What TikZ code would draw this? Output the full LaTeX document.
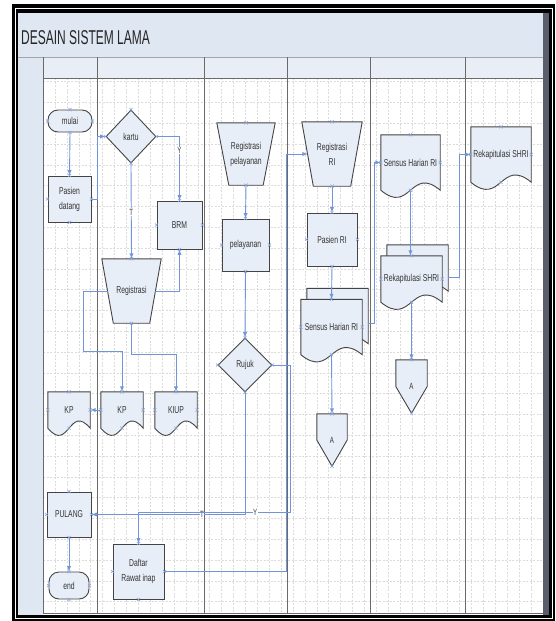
\documentclass[tikz,border=0pt]{standalone}
\usepackage{fontspec}
\setmainfont{Liberation Sans}[FakeStretch=0.68]
\newfontfamily\titlefont{Liberation Sans}[FakeStretch=0.6]
\usetikzlibrary{shapes.geometric,calc}

\definecolor{shapefill}{HTML}{E8EEF7}
\definecolor{shapeline}{HTML}{444444}
\definecolor{flowblue}{HTML}{7195D8}
\definecolor{barblue}{HTML}{DFE7F2}
\definecolor{laneline}{HTML}{6A6A6A}
\definecolor{slate}{HTML}{5A5E6C}

\pgfdeclarelayer{grid}
\pgfdeclarelayer{outline}
\pgfsetlayers{grid,outline,main}

\tikzset{
  base/.style={font=\fontsize{10}{15}\selectfont, text=black!80, align=center, inner sep=1pt},
  process/.style={base, shape=rectangle, draw=shapeline, fill=shapefill, line width=0.9pt},
  terminal/.style={process, rounded corners=10pt},
  decision/.style={base, shape=diamond, draw=shapeline, fill=shapefill, line width=0.9pt, inner sep=0pt},
  bare/.style={base, shape=rectangle, inner sep=0pt},
  docline/.style={draw=shapeline, fill=shapefill, line width=0.9pt},
  flow/.style={draw=flowblue, line width=0.9pt, ->},
  lbl/.style={font=\fontsize{9}{9}\selectfont, inner sep=0.5pt, text=black!75, fill=white},
  xm/.style={draw=flowblue!85, line width=0.5pt},
  gridline/.style={draw=gray!28, line width=0.4pt, dash pattern=on 2pt off 1.5pt},
}

% document outline with wavy bottom, shifted by (#2,#3)
\newcommand{\docpath}[3]{%
  \filldraw[docline] ($(#1.north west)+(#2,#3)$) -- ($(#1.north east)+(#2,#3)$)
    -- ($(#1.south east)+(#2,#3)$)
    .. controls ($(#1.south)+({#2},{#3-25})$) and ($(#1.south)+({#2},{#3+25})$)
    .. ($(#1.south west)+(#2,#3)$) -- cycle;}
% manual operation: wide top, narrow bottom
\newcommand{\manualpath}[2]{%
  \filldraw[docline] (#1.north west) -- (#1.north east)
    -- ($(#1.south east)+(-#2,0)$) -- ($(#1.south west)+(#2,0)$) -- cycle;}
% off-page connector pointing down
\newcommand{\offpagepath}[1]{%
  \filldraw[docline] (#1.north west) -- (#1.north east) -- ($(#1.north east)!0.5!(#1.south east)$)
    -- (#1.south) -- ($(#1.north west)!0.5!(#1.south west)$) -- cycle;}

\begin{document}
\begin{tikzpicture}[x=1pt,y=-1pt,>=latex]
  \useasboundingbox (0,0) rectangle (555,621);

  % frame, title bar and swimlanes
  \begin{pgfonlayer}{grid}
    \fill[black] (12,4) rectangle (555,621);
    \draw[white,line width=0.8pt] (15.5,8.5) rectangle (552,618);
    \fill[white] (18,13) rectangle (549,615);
    \fill[barblue] (18,13) rectangle (543,57);
    \fill[barblue!70] (43,57) rectangle (543,78);
    \fill[barblue] (18,57) rectangle (43,615);
    \fill[slate] (543,13) rectangle (549,615);
    \foreach \gx in {1,...,41}
      \draw[gridline] ({43+11.9*\gx},78) -- ({43+11.9*\gx},613);
    \foreach \gy in {0,...,25}
      \draw[gridline] (43,{81.5+20.8*\gy}) -- (543,{81.5+20.8*\gy});
    \draw[laneline!60] (18,57) -- (543,57);
    \draw[laneline] (43,78) -- (543,78);
    \draw[laneline] (43,613) -- (543,613);
    \foreach \lx in {43,97,204,287,370,465}
      \draw[laneline,line width=0.8pt] (\lx,57) -- (\lx,613);
  \end{pgfonlayer}
  \node[anchor=west, inner sep=0pt, font=\titlefont\fontsize{20}{20}\selectfont, text=black!85]
    (title) at (21,37.5) {DESAIN SISTEM LAMA};

  % shapes
  \node[terminal, minimum width=44pt, minimum height=22pt] (mulai) at (70,121) {mulai};
  \node[process, minimum width=43pt, minimum height=46pt] (pasien) at (69.5,199) {Pasien\\datang};
  \node[decision, minimum width=50pt, minimum height=53pt] (kartu) at (131,136.5) {kartu};
  \node[process, minimum width=45pt, minimum height=48pt] (brm) at (179.5,225) {BRM};
  \node[bare, minimum width=59pt, minimum height=64pt] (reg) at (131.5,291) {Registrasi};
  \node[bare, minimum width=42pt, minimum height=36pt] (kp1) at (69,410) {KP};
  \node[bare, minimum width=42pt, minimum height=36pt] (kp2) at (122,410) {KP};
  \node[bare, minimum width=42pt, minimum height=36pt] (kiup) at (176,410) {KIUP};
  \node[process, minimum width=44pt, minimum height=45pt] (pulang) at (69,514.5) {PULANG};
  \node[terminal, minimum width=40pt, minimum height=27pt] (stop) at (69,585.5) {end};
  \node[process, minimum width=51pt, minimum height=55pt] (daftar) at (138.5,571.5) {Daftar\\Rawat inap};
  \node[bare, minimum width=58pt, minimum height=62pt] (regpel) at (246,154) {Registrasi\\pelayanan};
  \node[process, minimum width=47pt, minimum height=52pt] (layan) at (245.5,245) {pelayanan};
  \node[decision, minimum width=54pt, minimum height=54pt] (rujuk) at (245,365) {Rujuk};
  \node[bare, minimum width=60pt, minimum height=64pt] (regri) at (332,154) {Registrasi\\RI};
  \node[process, minimum width=50pt, minimum height=53pt] (pasienri) at (332,239.5) {Pasien RI};
  \node[bare, minimum width=61pt, minimum height=55pt] (sensusri) at (331.5,327) {Sensus Harian RI};
  \node[bare, minimum width=30pt, minimum height=52pt, font=\fontsize{9}{9}\selectfont] (a1) at (332,440) {A};
  \node[bare, minimum width=59pt, minimum height=55pt] (sensus) at (410.5,162.5) {Sensus Harian RI};
  \node[bare, minimum width=61pt, minimum height=46pt] (rekapri) at (411.5,279) {Rekapitulasi SHRI};
  \node[bare, minimum width=31pt, minimum height=53pt, font=\fontsize{9}{9}\selectfont] (a2) at (411.5,386.5) {A};
  \node[bare, minimum width=60pt, minimum height=55pt] (rekap) at (501,154.5) {Rekapitulasi SHRI};

  \begin{pgfonlayer}{outline}
    \manualpath{reg}{11.5}
    \manualpath{regpel}{12}
    \manualpath{regri}{11.5}
    \docpath{kp1}{0}{0}
    \docpath{kp2}{0}{0}
    \docpath{kiup}{0}{0}
    \docpath{sensus}{0}{0}
    \docpath{rekap}{0}{0}
    \docpath{sensusri}{6}{-11}
    \docpath{sensusri}{0}{0}
    \docpath{rekapri}{6}{-11}
    \docpath{rekapri}{0}{0}
    \offpagepath{a1}
    \offpagepath{a2}
  \end{pgfonlayer}

  % connectors
  \draw[flow] (mulai.south) -- (pasien.north);
  \draw[flow] (pasien.east) -- ++(6,0) |- (kartu.west);
  \draw[flow] (kartu.east) -| node[lbl,pos=0.61]{Y} (brm.north);
  \draw[flow] (kartu.south) -- node[lbl,pos=0.51]{T} (reg.north);
  \draw[flow] ([xshift=-6pt]reg.east) -| (brm.south);
  \draw[flow] ([xshift=6pt]reg.west) -| (83,351) -| (kp2.north);
  \draw[flow] (reg.south) -- ++(0,31) -| (kiup.north);
  \draw[flow] (kp2.west) -- (kp1.east);
  \draw[flow] (regpel.south) -- (layan.north);
  \draw[flow] (layan.south) -- (rujuk.north);
  \draw[flow] (rujuk.south) |- node[lbl,pos=0.64]{T} (pulang.east);
  \draw[flow] (rujuk.east) -| (290,512) -| node[lbl,pos=0.115]{Y} (daftar.north);
  \draw[flow] (daftar.east) -| ($(regri.west)+(-15,0)$) -- ([xshift=6pt]regri.west);
  \draw[flow] (regri.south) -- (pasienri.north);
  \draw[flow] (pasienri.south) -- (sensusri.north);
  \draw[flow] (sensusri.south) -- (a1.north);
  \draw[flow] ($(sensusri.east)+(6,-4)$) -- ++(6,0) |- (sensus.west);
  \draw[flow] (sensus.south) -- (sensus.south |- rekapri.north);
  \draw[flow] ($(rekapri.east)+(6,-2)$) -- ++(11,0) |- (rekap.west);
  \draw[flow] (rekapri.south) -- (a2.north);
  \draw[flow] (pulang.south) -- (stop.north);

  % connection points
  \foreach \n in {mulai,pasien,kartu,brm,kp1,kp2,kiup,pulang,stop,daftar,layan,
                  rujuk,pasienri,sensusri,sensus,rekapri,rekap}
    \foreach \a in {north,south,east,west}
      \draw[xm] (\n.\a) +(-1.6,-1.6) -- +(1.6,1.6) +(-1.6,1.6) -- +(1.6,-1.6);
  \foreach \n in {reg,regpel,regri,a1,a2}
    \foreach \a in {north,south}
      \draw[xm] (\n.\a) +(-1.6,-1.6) -- +(1.6,1.6) +(-1.6,1.6) -- +(1.6,-1.6);
\end{tikzpicture}
\end{document}
